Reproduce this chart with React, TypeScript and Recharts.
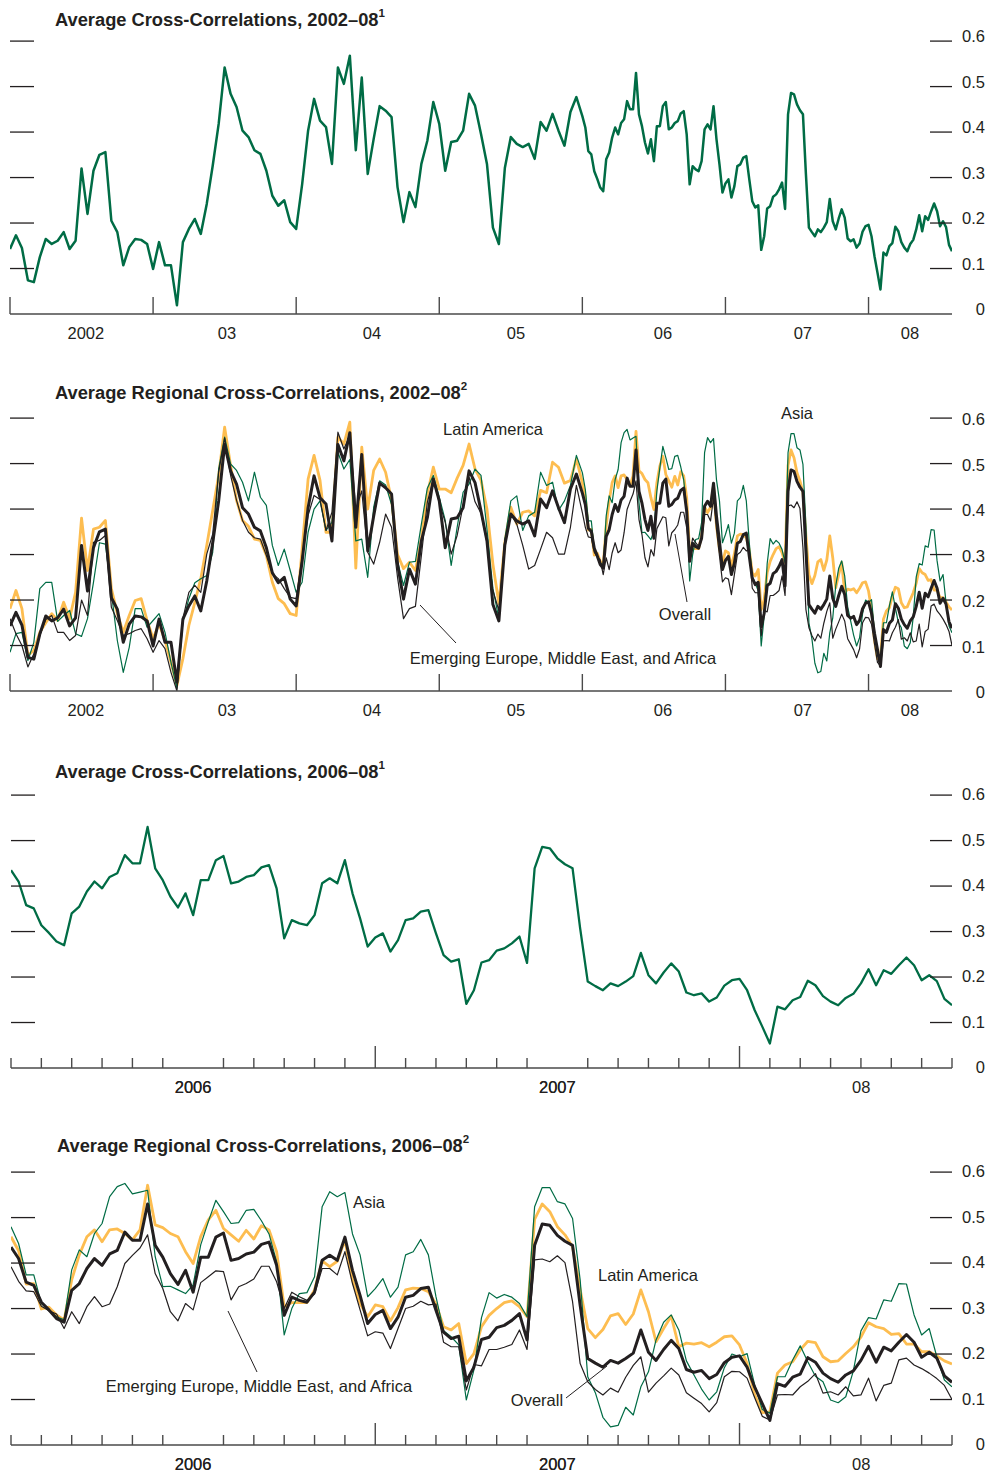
import React from "react";
import { LineChart, Line, XAxis, YAxis } from "recharts";

const GREEN = "#006c45";
const GOLD = "#fdbd50";
const INK = "#231f20";
const AXIS = "#4a4a4a";
const FONT = "'Liberation Sans', Arial, sans-serif";

// half-monthly readings, Jan 2002 - Dec 2005
const overallEarly = [
  0.143, 0.173, 0.145, 0.074, 0.07, 0.125, 0.165, 0.154, 0.161, 0.18,
  0.143, 0.161, 0.32, 0.22, 0.315, 0.35, 0.356, 0.205, 0.18, 0.107,
  0.147, 0.165, 0.163, 0.154, 0.099, 0.158, 0.107, 0.107, 0.019, 0.158,
  0.187, 0.209, 0.176, 0.242, 0.326, 0.418, 0.542, 0.484, 0.455, 0.403,
  0.389, 0.36, 0.352, 0.315, 0.26, 0.238, 0.25, 0.202, 0.187, 0.285,
  0.403, 0.473, 0.425, 0.411, 0.33, 0.542, 0.506, 0.568, 0.36, 0.52,
  0.308, 0.385, 0.457, 0.447, 0.433, 0.279, 0.202, 0.268, 0.235, 0.33,
  0.381, 0.466, 0.418, 0.315, 0.378, 0.381, 0.403, 0.484, 0.458, 0.396,
  0.33, 0.19, 0.154, 0.321, 0.389, 0.374, 0.367, 0.374, 0.341, 0.422,
  0.403, 0.44, 0.403, 0.37, 0.444, 0.477,
];
const latinEarly = [
  0.181, 0.221, 0.181, 0.078, 0.089, 0.129, 0.15, 0.17, 0.155, 0.195,
  0.159, 0.217, 0.38, 0.265, 0.356, 0.36, 0.375, 0.225, 0.17, 0.129,
  0.166, 0.199, 0.203, 0.155, 0.115, 0.148, 0.111, 0.063, 0.012, 0.071,
  0.144, 0.195, 0.247, 0.32, 0.397, 0.474, 0.58, 0.496, 0.419, 0.375,
  0.362, 0.334, 0.331, 0.298, 0.239, 0.203, 0.192, 0.17, 0.166, 0.312,
  0.466, 0.518, 0.463, 0.349, 0.349, 0.558, 0.543, 0.591, 0.27, 0.536,
  0.4, 0.485, 0.51, 0.481, 0.42, 0.3, 0.269, 0.283, 0.265, 0.334,
  0.433, 0.492, 0.444, 0.444, 0.436, 0.468, 0.496, 0.543, 0.488, 0.463,
  0.4, 0.279, 0.192, 0.327, 0.404, 0.367, 0.393, 0.396, 0.385, 0.441,
  0.436, 0.503, 0.492, 0.457, 0.463, 0.51,
];
const asiaEarly = [
  0.085, 0.126, 0.129, 0.067, 0.107, 0.225, 0.239, 0.239, 0.153, 0.166,
  0.177, 0.126, 0.12, 0.159, 0.239, 0.326, 0.323, 0.217, 0.111, 0.041,
  0.096, 0.181, 0.181, 0.14, 0.155, 0.17, 0.129, 0.063, 0.006, 0.151,
  0.203, 0.238, 0.247, 0.254, 0.305, 0.488, 0.558, 0.499, 0.485, 0.459,
  0.418, 0.481, 0.426, 0.408, 0.32, 0.276, 0.312, 0.265, 0.217, 0.239,
  0.349, 0.4, 0.418, 0.353, 0.371, 0.525, 0.488, 0.509, 0.33, 0.334,
  0.25, 0.404, 0.462, 0.453, 0.41, 0.285, 0.232, 0.283, 0.285, 0.367,
  0.446, 0.474, 0.426, 0.375, 0.276, 0.36, 0.437, 0.455, 0.488, 0.474,
  0.356, 0.225, 0.159, 0.334, 0.418, 0.429, 0.353, 0.385, 0.393, 0.481,
  0.452, 0.459, 0.397, 0.418, 0.452, 0.518,
];
const emeaEarly = [
  0.159, 0.126, 0.1, 0.053, 0.082, 0.122, 0.157, 0.166, 0.129, 0.129,
  0.111, 0.122, 0.2, 0.166, 0.327, 0.331, 0.342, 0.184, 0.155, 0.122,
  0.126, 0.133, 0.137, 0.115, 0.085, 0.111, 0.093, 0.041, 0.0, 0.159,
  0.217, 0.232, 0.217, 0.301, 0.345, 0.481, 0.556, 0.474, 0.419, 0.375,
  0.349, 0.337, 0.334, 0.298, 0.258, 0.247, 0.225, 0.206, 0.203, 0.294,
  0.386, 0.43, 0.421, 0.353, 0.393, 0.569, 0.532, 0.562, 0.4, 0.44,
  0.305, 0.279, 0.327, 0.389, 0.36, 0.25, 0.159, 0.181, 0.186, 0.298,
  0.415, 0.466, 0.415, 0.371, 0.301, 0.342, 0.408, 0.47, 0.416, 0.391,
  0.327, 0.221, 0.177, 0.331, 0.388, 0.367, 0.32, 0.268, 0.276, 0.312,
  0.349, 0.337, 0.301, 0.301, 0.36, 0.452,
];

// weekly readings, Jan 2006 - Jul 2008
const overallLate = [
  0.435, 0.41, 0.358, 0.351, 0.314, 0.297, 0.278, 0.27, 0.34, 0.355,
  0.388, 0.41, 0.395, 0.42, 0.428, 0.468, 0.45, 0.45, 0.53, 0.439,
  0.413, 0.377, 0.353, 0.384, 0.336, 0.413, 0.413, 0.457, 0.466, 0.406,
  0.41, 0.42, 0.424, 0.441, 0.446, 0.395, 0.285, 0.325, 0.318, 0.314,
  0.336, 0.406, 0.417, 0.406, 0.457, 0.384, 0.329, 0.267, 0.287, 0.296,
  0.256, 0.281, 0.325, 0.329, 0.344, 0.347, 0.296, 0.248, 0.234, 0.239,
  0.141, 0.171, 0.232, 0.237, 0.258, 0.263, 0.274, 0.289, 0.231, 0.439,
  0.486, 0.483, 0.461, 0.448, 0.439, 0.307, 0.19, 0.18, 0.171, 0.186,
  0.18, 0.19, 0.202, 0.253, 0.204, 0.186, 0.21, 0.23, 0.212, 0.166,
  0.16, 0.164, 0.146, 0.155, 0.181, 0.193, 0.196, 0.171, 0.127, 0.091,
  0.054, 0.135, 0.129, 0.149, 0.156, 0.192, 0.182, 0.158, 0.146, 0.138,
  0.154, 0.163, 0.186, 0.217, 0.182, 0.215, 0.207, 0.226, 0.243, 0.226,
  0.193, 0.204, 0.191, 0.152, 0.138,
];
const latinLate = [
  0.458, 0.427, 0.354, 0.355, 0.299, 0.303, 0.286, 0.275, 0.363, 0.418,
  0.458, 0.473, 0.447, 0.473, 0.475, 0.465, 0.451, 0.473, 0.571, 0.484,
  0.478, 0.465, 0.458, 0.425, 0.399, 0.458, 0.495, 0.516, 0.476, 0.462,
  0.448, 0.472, 0.453, 0.482, 0.473, 0.425, 0.304, 0.313, 0.313, 0.313,
  0.341, 0.405, 0.392, 0.404, 0.451, 0.363, 0.311, 0.282, 0.308, 0.304,
  0.273, 0.302, 0.341, 0.345, 0.344, 0.337, 0.31, 0.26, 0.253, 0.267,
  0.179, 0.201, 0.26, 0.285, 0.3, 0.313, 0.317, 0.304, 0.282, 0.496,
  0.53, 0.513, 0.48, 0.462, 0.436, 0.342, 0.256, 0.236, 0.254, 0.284,
  0.289, 0.265, 0.288, 0.341, 0.293, 0.227, 0.256, 0.283, 0.216, 0.224,
  0.222, 0.225, 0.216, 0.226, 0.238, 0.24, 0.22, 0.179, 0.111, 0.071,
  0.073, 0.158, 0.176, 0.183, 0.209, 0.228, 0.225, 0.194, 0.183, 0.185,
  0.201, 0.216, 0.237, 0.269, 0.26, 0.256, 0.243, 0.245, 0.222, 0.222,
  0.205, 0.205, 0.196, 0.185, 0.178,
];
const asiaLate = [
  0.48, 0.443, 0.374, 0.374, 0.311, 0.297, 0.282, 0.275, 0.385, 0.429,
  0.414, 0.465, 0.487, 0.546, 0.568, 0.575, 0.552, 0.556, 0.56, 0.414,
  0.348, 0.349, 0.341, 0.333, 0.352, 0.44, 0.491, 0.538, 0.513, 0.487,
  0.489, 0.516, 0.518, 0.493, 0.464, 0.403, 0.242, 0.3, 0.333, 0.335,
  0.37, 0.524, 0.557, 0.546, 0.555, 0.464, 0.418, 0.326, 0.344, 0.366,
  0.325, 0.347, 0.418, 0.425, 0.452, 0.418, 0.326, 0.251, 0.238, 0.22,
  0.099, 0.165, 0.28, 0.335, 0.323, 0.331, 0.325, 0.311, 0.282, 0.524,
  0.566, 0.566, 0.535, 0.53, 0.498, 0.363, 0.15, 0.115, 0.061, 0.04,
  0.043, 0.083, 0.066, 0.128, 0.161, 0.231, 0.27, 0.286, 0.253, 0.185,
  0.154, 0.123, 0.099, 0.117, 0.17, 0.2, 0.194, 0.201, 0.132, 0.078,
  0.07, 0.15, 0.15, 0.187, 0.218, 0.183, 0.151, 0.139, 0.099, 0.093,
  0.106, 0.163, 0.251, 0.28, 0.277, 0.319, 0.316, 0.355, 0.354, 0.286,
  0.242, 0.256, 0.194, 0.143, 0.128,
];
const emeaLate = [
  0.392, 0.36, 0.339, 0.337, 0.305, 0.295, 0.288, 0.256, 0.293, 0.267,
  0.304, 0.326, 0.304, 0.31, 0.348, 0.399, 0.417, 0.433, 0.462, 0.377,
  0.344, 0.293, 0.273, 0.311, 0.297, 0.357, 0.37, 0.383, 0.381, 0.319,
  0.348, 0.355, 0.365, 0.393, 0.393, 0.359, 0.3, 0.336, 0.326, 0.318,
  0.332, 0.388, 0.388, 0.374, 0.425, 0.355, 0.297, 0.24, 0.249, 0.246,
  0.212, 0.256, 0.3, 0.305, 0.316, 0.308, 0.31, 0.226, 0.216, 0.216,
  0.121, 0.177, 0.174, 0.21, 0.21, 0.215, 0.221, 0.253, 0.21, 0.407,
  0.409, 0.403, 0.416, 0.401, 0.315, 0.179, 0.139, 0.122, 0.11, 0.125,
  0.116, 0.149, 0.175, 0.194, 0.116, 0.136, 0.152, 0.169, 0.154, 0.115,
  0.103, 0.091, 0.073, 0.093, 0.15, 0.162, 0.161, 0.147, 0.104, 0.063,
  0.055, 0.11, 0.111, 0.11, 0.128, 0.14, 0.157, 0.114, 0.117, 0.11,
  0.128, 0.108, 0.11, 0.147, 0.097, 0.131, 0.136, 0.187, 0.191, 0.176,
  0.168, 0.158, 0.146, 0.131, 0.1,
];

const yTicks = [0, 0.1, 0.2, 0.3, 0.4, 0.5, 0.6];

const longYears = [2002, 2003, 2004, 2005, 2006, 2007, 2008];
const longLabels = ["2002", "03", "04", "05", "06", "07", "08"];
const longLabelAt = [2002.53, 2003.516, 2004.53, 2005.536, 2006.563, 2007.541, 2008.289];

const shortYears = [2007, 2008];
const shortMonths = Array.from({ length: 32 }, (_, m) => 2006 + m / 12);
const shortLabels = ["2006", "2007", "08"];
const shortLabelAt = [2006.5, 2007.5, 2008.334];

const END = 2008 + 7 / 12;

const rows = [
  ...overallEarly.map((v, i) => ({
    date: 2002 + i / 24,
    overall: v,
    latin: latinEarly[i],
    asia: asiaEarly[i],
    emea: emeaEarly[i],
  })),
  ...overallLate.map((v, i) => ({
    date: 2006 + i / 48,
    overall: v,
    latin: latinLate[i],
    asia: asiaLate[i],
    emea: emeaLate[i],
  })),
];
const recent = rows.filter((r) => r.date >= 2006 - 1e-9);

const W = 989;
const PAD = 20; // room above the plot for the top tick label
const PLOT_H = 282;
const AXIS_H = 30;
const RIGHT = 952;
const LABEL_SIZE = 16.5;

const near = (list: number[], v: number) => list.findIndex((p) => Math.abs(p - v) < 1e-6);

function Panel(props: any) {
  const { top, data, start, left, regional, majors, minors, labels, labelAt, majorLen, minorLen, labelDy, lineW } = props;
  const base = PAD + PLOT_H;

  const renderX = ({ x, payload }: any) => {
    const v = payload.value;
    const li = near(labelAt, v);
    if (li >= 0) {
      return (
        <text x={x} y={base + 19} textAnchor="middle" dominantBaseline="central" fontSize={LABEL_SIZE} fill={INK} fontFamily={FONT}>
          {labels[li]}
        </text>
      );
    }
    const len = near(majors, v) >= 0 ? majorLen : minorLen;
    return <line x1={x} x2={x} y1={base} y2={base - len} stroke={AXIS} strokeWidth={1.4} />;
  };

  const renderY = ({ y, payload }: any) => {
    const v = payload.value;
    return (
      <g>
        {v > 0 && <line x1={left} x2={left + 24} y1={y} y2={y} stroke={INK} strokeWidth={1.3} />}
        {v > 0 && <line x1={RIGHT - 22} x2={RIGHT} y1={y} y2={y} stroke={INK} strokeWidth={1.3} />}
        <text x={985} y={y + labelDy} textAnchor="end" dominantBaseline="central" fontSize={LABEL_SIZE} fill={INK} fontFamily={FONT}>
          {v === 0 ? "0" : v.toFixed(1)}
        </text>
      </g>
    );
  };

  return (
    <div style={{ position: "absolute", left: 0, top: top - PAD }}>
      <LineChart width={W} height={PAD + PLOT_H + AXIS_H} data={data} margin={{ top: PAD, right: 0, bottom: 0, left }}>
        <XAxis
          dataKey="date"
          type="number"
          domain={[start, END]}
          allowDataOverflow
          ticks={[...minors, ...labelAt]}
          interval={0}
          tick={renderX}
          tickLine={false}
          tickSize={0}
          tickMargin={0}
          height={AXIS_H}
          axisLine={{ stroke: AXIS, strokeWidth: 1.6 }}
        />
        <YAxis
          orientation="right"
          domain={[0, 0.62]}
          allowDataOverflow
          ticks={yTicks}
          interval={0}
          tick={renderY}
          tickLine={false}
          axisLine={false}
          tickSize={0}
          tickMargin={0}
          width={W - RIGHT}
        />
        {regional && (
          <Line dataKey="latin" stroke={GOLD} strokeWidth={2.8} dot={false} isAnimationActive={false} strokeLinejoin="round" />
        )}
        {regional && (
          <Line dataKey="asia" stroke={GREEN} strokeWidth={1.2} dot={false} isAnimationActive={false} strokeLinejoin="round" />
        )}
        {regional && (
          <Line dataKey="emea" stroke={INK} strokeWidth={1.2} dot={false} isAnimationActive={false} strokeLinejoin="round" />
        )}
        <Line
          dataKey="overall"
          stroke={regional ? INK : GREEN}
          strokeWidth={lineW}
          dot={false}
          isAnimationActive={false}
          strokeLinejoin="round"
        />
      </LineChart>
    </div>
  );
}

function Title({ x, y, text, note }: any) {
  return (
    <text x={x} y={y} dominantBaseline="central" fontSize={18.3} fontWeight="bold" fill={INK} fontFamily={FONT}>
      {text}
      <tspan fontSize={11.5} dy={-6}>
        {note}
      </tspan>
    </text>
  );
}

function Note({ x, y, text }: any) {
  return (
    <text x={x} y={y} textAnchor="middle" dominantBaseline="central" fontSize={LABEL_SIZE} fill={INK} fontFamily={FONT}>
      {text}
    </text>
  );
}

export default function App() {
  const longAxis = { start: 2002, left: 10, majors: longYears, minors: longYears, labels: longLabels, labelAt: longLabelAt, majorLen: 17, minorLen: 17 };
  const shortAxis = { start: 2006, left: 11, majors: shortYears, minors: shortMonths, labels: shortLabels, labelAt: shortLabelAt, majorLen: 22, minorLen: 10 };

  return (
    <div style={{ position: "absolute", left: 0, top: 0, width: W, height: 1474, background: "#fff", fontFamily: FONT }}>
      <Panel top={31.5} data={rows} regional={false} lineW={2.5} labelDy={-5} {...longAxis} />
      <Panel top={408.5} data={rows} regional lineW={3} labelDy={1} {...longAxis} />
      <Panel top={786} data={recent} regional={false} lineW={2.3} labelDy={-1} {...shortAxis} />
      <Panel top={1163} data={recent} regional lineW={3} labelDy={-1} {...shortAxis} />

      <svg width={W} height={1474} style={{ position: "absolute", left: 0, top: 0, pointerEvents: "none" }}>
        <Title x={55} y={19} text="Average Cross-Correlations, 2002–08" note="1" />
        <Title x={55} y={392} text="Average Regional Cross-Correlations, 2002–08" note="2" />
        <Title x={55} y={771} text="Average Cross-Correlations, 2006–08" note="1" />
        <Title x={57} y={1145} text="Average Regional Cross-Correlations, 2006–08" note="2" />

        <Note x={493} y={429} text="Latin America" />
        <Note x={797} y={413} text="Asia" />
        <Note x={685} y={614} text="Overall" />
        <line x1={687} y1={602} x2={675} y2={534} stroke={INK} strokeWidth={1} />
        <Note x={563} y={658} text="Emerging Europe, Middle East, and Africa" />
        <line x1={456} y1={643} x2={420} y2={605} stroke={INK} strokeWidth={1} />

        <Note x={369} y={1202} text="Asia" />
        <Note x={648} y={1275} text="Latin America" />
        <Note x={259} y={1386} text="Emerging Europe, Middle East, and Africa" />
        <line x1={257} y1={1372} x2={228} y2={1311} stroke={INK} strokeWidth={1} />
        <Note x={537} y={1400} text="Overall" />
        <line x1={566} y1={1398} x2={607} y2={1366} stroke={INK} strokeWidth={1} />
      </svg>
    </div>
  );
}
